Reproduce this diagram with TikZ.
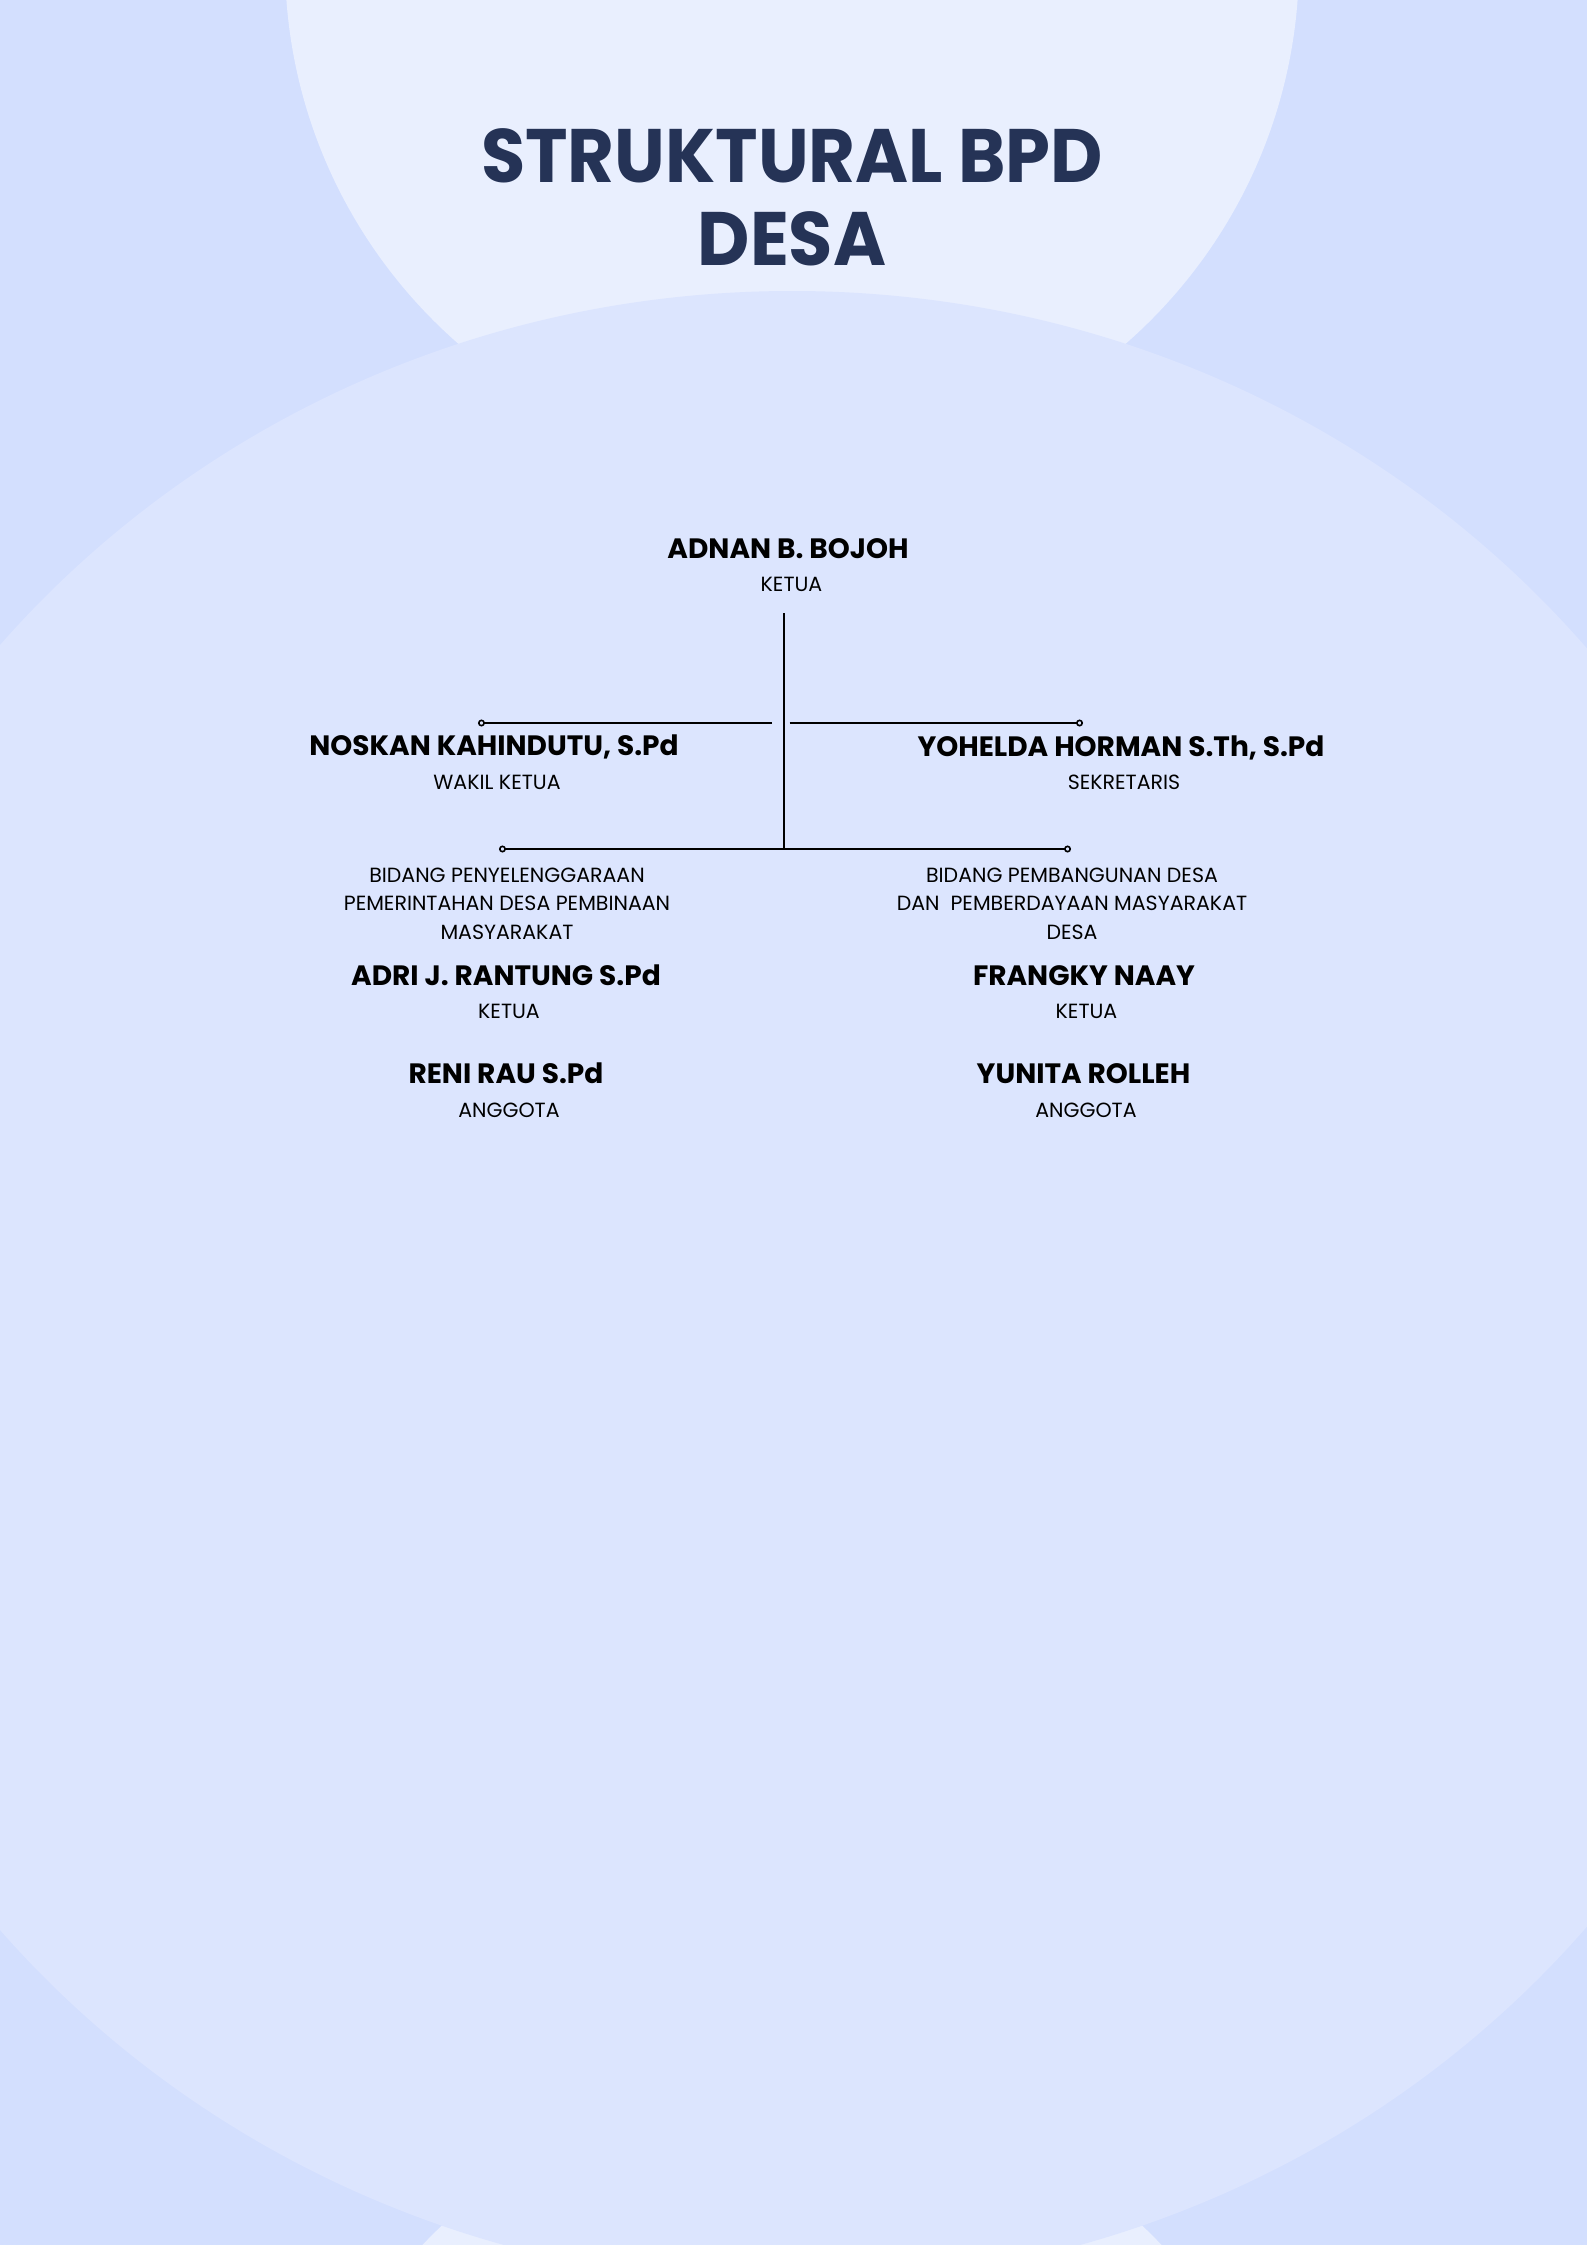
\documentclass[tikz,border=0pt]{standalone}
\usepackage{fontspec}
\setmainfont{Poppins}
\newfontfamily\titlefont{Poppins}[FakeStretch=0.95]
\usetikzlibrary{arrows.meta}

\definecolor{pagebg}{HTML}{D3DFFE}
\definecolor{ovalbg}{HTML}{DCE5FE}
\definecolor{capbg}{HTML}{E9EFFE}
\definecolor{titleblue}{HTML}{253356}

\tikzset{
	person/.style={anchor=base, inner sep=0pt, font=\fontsize{10.5}{12}\selectfont\bfseries},
	jabatan/.style={anchor=base, inner sep=0pt, align=center, font=\fontsize{7.7}{10.6}\selectfont},
	link/.style={line width=0.75pt, -{Circle[open, length=2.6pt, line width=0.6pt]}},
}

\begin{document}
\begin{tikzpicture}[x=0.375pt, y=-0.375pt]

		% background
		\useasboundingbox (0,0) rectangle (1587,2245);
		\clip (0,0) rectangle (1587,2245);
		\fill [pagebg]	(0,0) rectangle (1587,2245);
		\fill [capbg]		(792,-38) ellipse [x radius=507, y radius=507];
		\fill [capbg]		(792,2595) ellipse [x radius=509, y radius=509];
		\fill [ovalbg]	(792,1287.5) ellipse [x radius=1036, y radius=996.5];

		\node [anchor=base, align=center, text=titleblue, font=\titlefont\fontsize{28.4}{30.9}\selectfont\bfseries] (judul) at (792,265) {STRUKTURAL BPD\\DESA};

		% ketua
		\node [person]	(adnan)	 at (788,558) {ADNAN B. BOJOH};
		\node [jabatan]	(adnanJ) at (791.5,591) {KETUA};

		% wakil & sekretaris
		\node [person]	(noskan)	at (494,755) {NOSKAN KAHINDUTU, S.Pd};
		\node [jabatan]	(noskanJ)	at (497,789) {WAKIL KETUA};
		\node [person]	(yohelda)	at (1121,756) {YOHELDA HORMAN S.Th, S.Pd};
		\node [jabatan]	(yoheldaJ) at (1124,789) {SEKRETARIS};

		% bidang
		\node [jabatan]	(bidangA) at (507,939) {BIDANG PENYELENGGARAAN\\PEMERINTAHAN DESA PEMBINAAN\\MASYARAKAT};
		\node [jabatan]	(bidangB) at (1072,939) {BIDANG PEMBANGUNAN DESA\\DAN~ PEMBERDAYAAN MASYARAKAT\\DESA};

		\node [person]	(adri)		at (506,985) {ADRI J. RANTUNG S.Pd};
		\node [jabatan]	(adriJ)		at (509,1018) {KETUA};
		\node [person]	(reni)		at (506,1083) {RENI RAU S.Pd};
		\node [jabatan]	(reniJ)		at (509,1117) {ANGGOTA};

		\node [person]	(frangky)	at (1084,985) {FRANGKY NAAY};
		\node [jabatan]	(frangkyJ) at (1086.5,1018) {KETUA};
		\node [person]	(yunita)	at (1083.5,1083) {YUNITA ROLLEH};
		\node [jabatan]	(yunitaJ)	at (1086,1117) {ANGGOTA};

		% garis
		\coordinate (batang atas)	at (784,613);
		\coordinate (batang bawah) at (784,849);
		\coordinate (kiri dalam)	at (772,723);
		\coordinate (kiri luar)		at (478,723);
		\coordinate (kanan dalam)	at (789.5,723);
		\coordinate (kanan luar)	at (1083,723);
		\coordinate (bawah kiri)	at (499,849);
		\coordinate (bawah kanan)	at (1071,849);

		\draw [line width=0.75pt]	(batang atas) to (batang bawah);
		\draw [link]	(kiri dalam) to (kiri luar);
		\draw [link]	(kanan dalam) to (kanan luar);
		\draw [link, line width=1.1pt]	(batang bawah) to (bawah kiri);
		\draw [link, line width=1.1pt]	(batang bawah) to (bawah kanan);

	\end{tikzpicture}
\end{document}
